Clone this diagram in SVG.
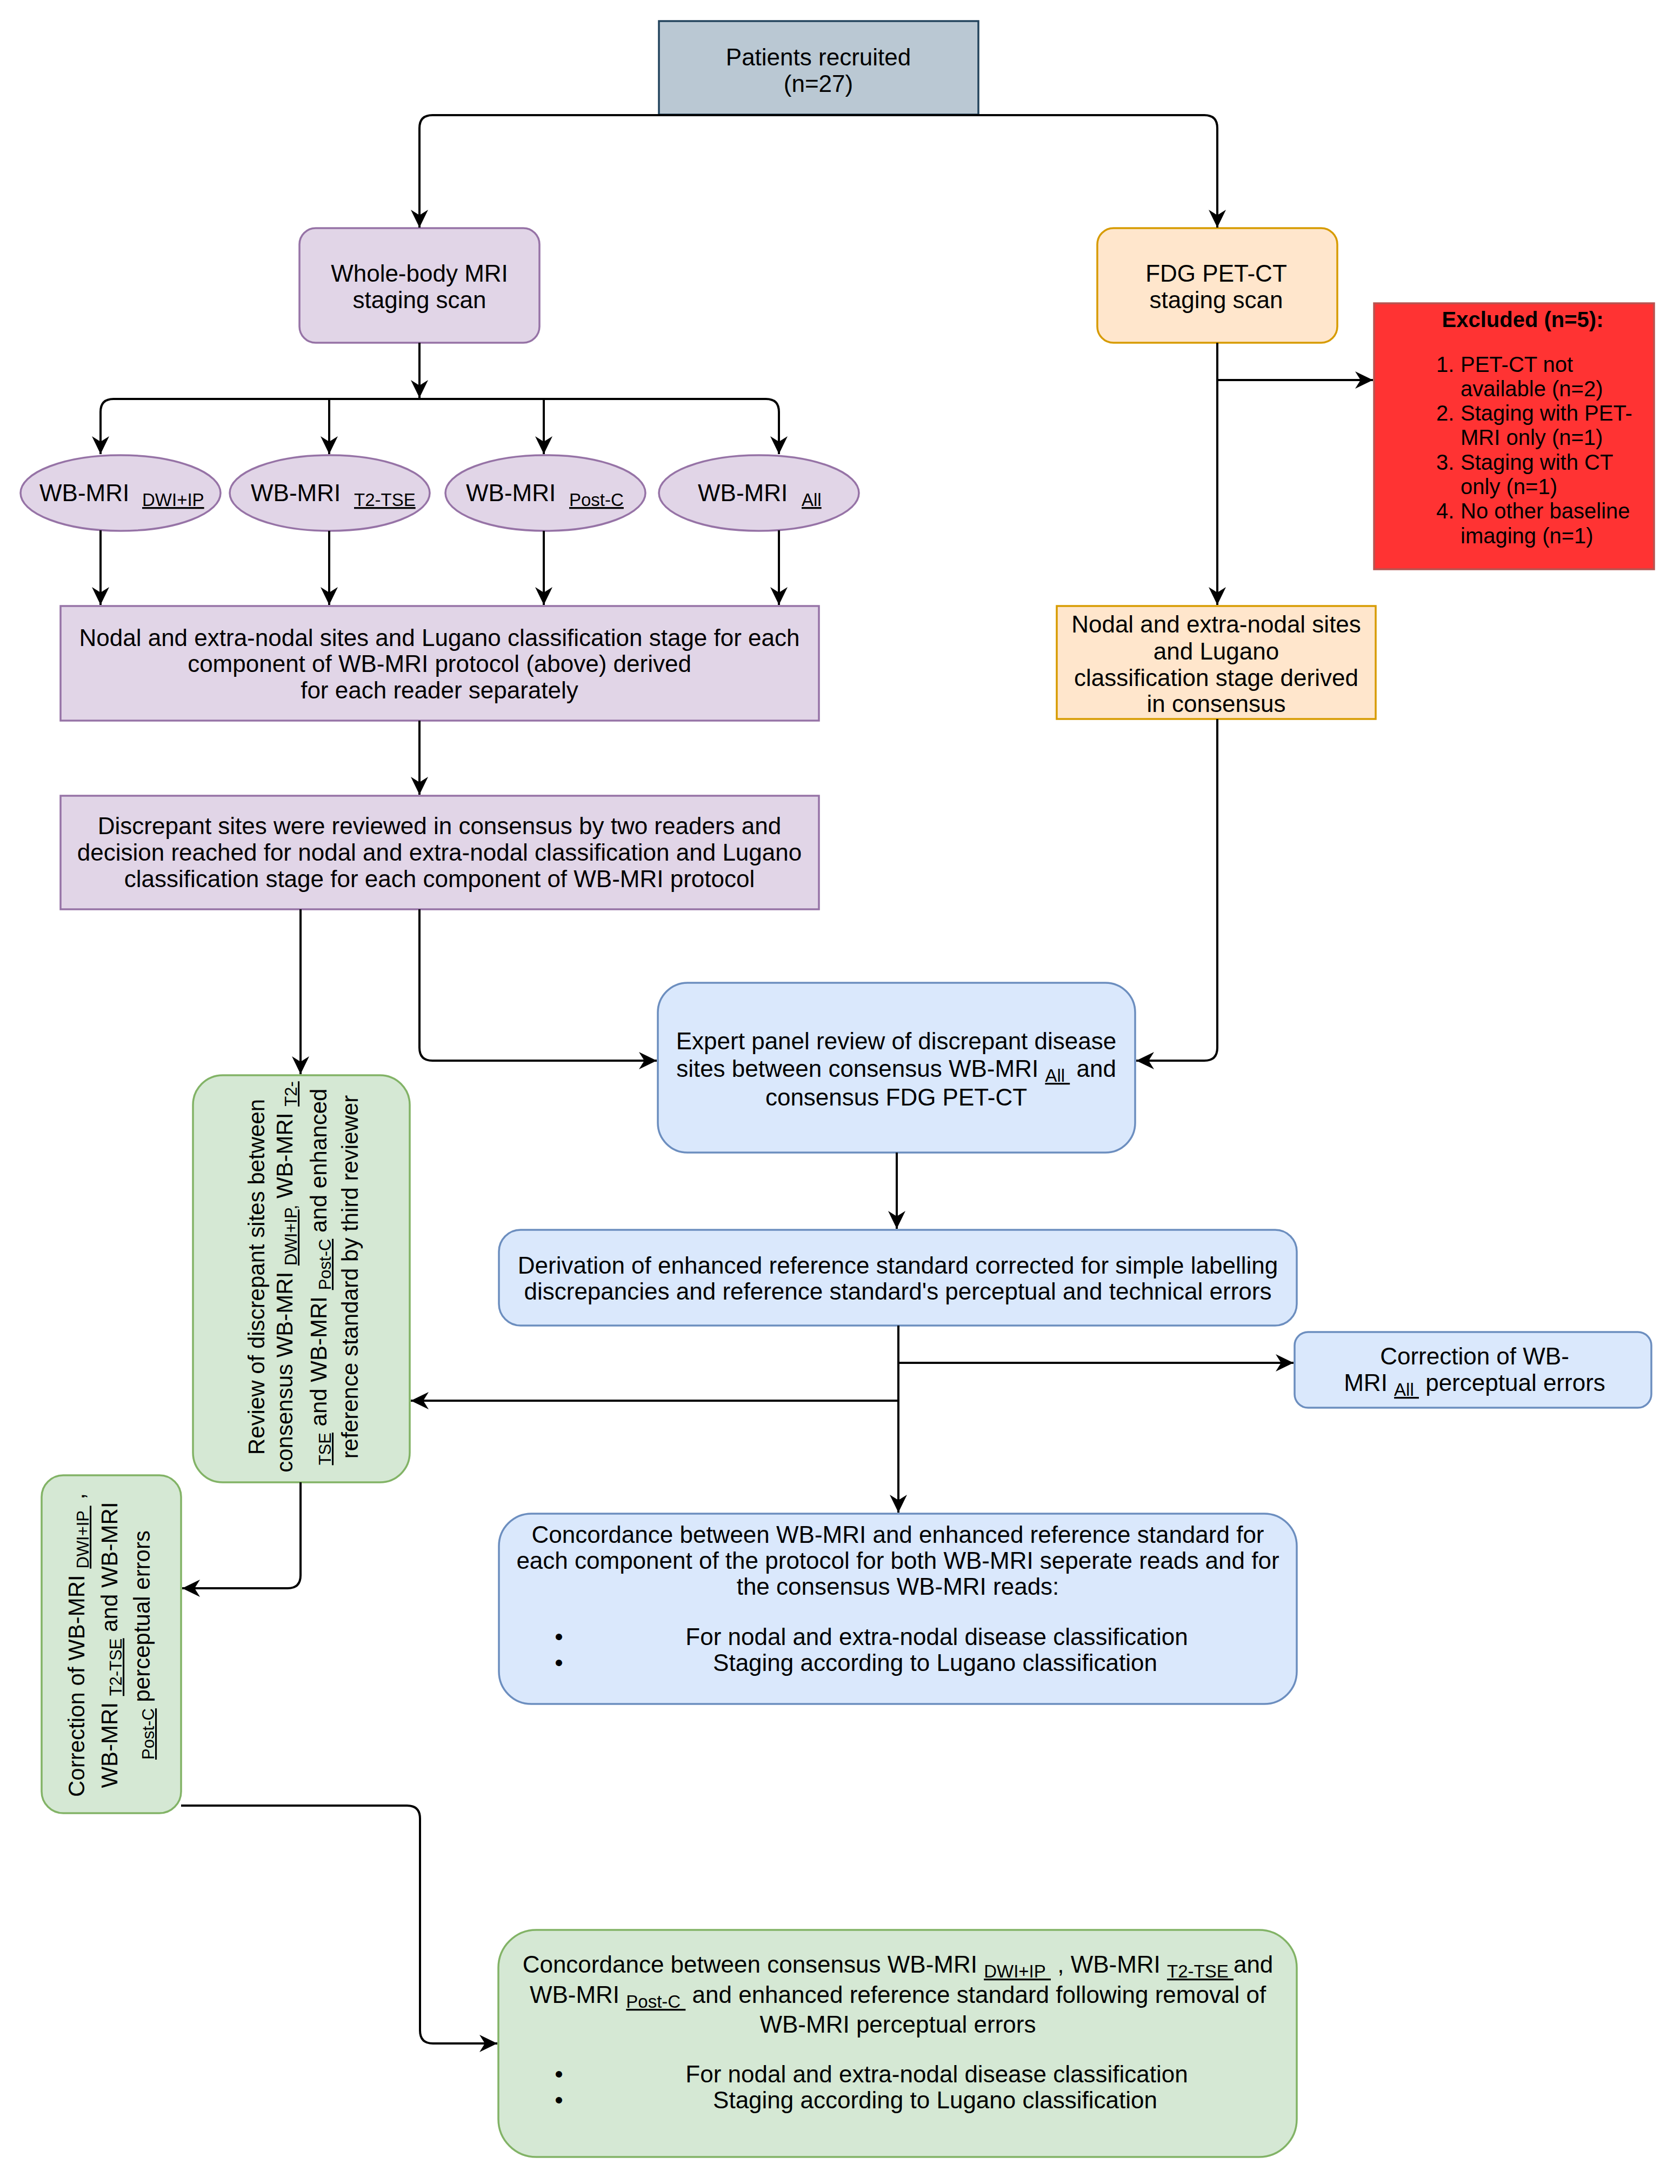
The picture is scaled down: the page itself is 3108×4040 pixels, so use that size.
<svg xmlns="http://www.w3.org/2000/svg" width="3108" height="4040" viewBox="0 0 3108 4040">
<defs>
<style>
text{font-family:"Liberation Sans",Arial,Helvetica,sans-serif;font-size:44px;fill:#000}
.m{text-anchor:middle}
.s{font-size:33px;text-decoration:underline}
.sn{font-size:33px}
.r text{font-size:42px}
.r .s,.r .sn{font-size:31px}
.ex text{font-size:40px}
.b{font-weight:bold}
.e{fill:none;stroke:#000;stroke-width:4;marker-end:url(#a)}
.gy{fill:#bac8d3;stroke:#23445d;stroke-width:3.5}
.pu{fill:#e1d5e7;stroke:#9673a6;stroke-width:3.5}
.or{fill:#ffe6cc;stroke:#d79b00;stroke-width:3.5}
.bl{fill:#dae8fc;stroke:#6c8ebf;stroke-width:3.5}
.gr{fill:#d5e8d4;stroke:#82b366;stroke-width:3.5}
.rd{fill:#ff3333;stroke:#b85450;stroke-width:3.5}
</style>
<marker id="a" viewBox="-36 -18 38 36" markerWidth="38" markerHeight="36" refX="0" refY="0" orient="auto" markerUnits="userSpaceOnUse"><path d="M0,0 L-33,-16 L-23,0 L-33,16 Z" fill="#000"/></marker>
</defs>
<rect width="3108" height="4040" fill="#fff"/>

<g id="patients">
<rect class="gy" x="1219" y="39" width="591" height="173"/>
<text class="m" x="1514" y="121">Patients recruited</text>
<text class="m" x="1514" y="170">(n=27)</text>
</g>

<g id="wbmri">
<rect class="pu" x="554" y="422" width="444" height="212" rx="30"/>
<text class="m" x="776" y="521">Whole-body MRI</text>
<text class="m" x="776" y="570">staging scan</text>
</g>

<g id="fdg">
<rect class="or" x="2030" y="422" width="444" height="212" rx="30"/>
<text class="m" x="2250" y="521">FDG PET-CT</text>
<text class="m" x="2250" y="570">staging scan</text>
</g>

<g id="excluded" class="ex">
<rect class="rd" x="2542" y="561" width="518" height="492"/>
<text class="m b" x="2817" y="605">Excluded (n=5):</text>
<text x="2657" y="688">1.</text><text x="2702" y="688">PET-CT not</text>
<text x="2702" y="733">available (n=2)</text>
<text x="2657" y="778">2.</text><text x="2702" y="778">Staging with PET-</text>
<text x="2702" y="823">MRI only (n=1)</text>
<text x="2657" y="869">3.</text><text x="2702" y="869">Staging with CT</text>
<text x="2702" y="914">only (n=1)</text>
<text x="2657" y="959">4.</text><text x="2702" y="959">No other baseline</text>
<text x="2702" y="1005">imaging (n=1)</text>
</g>

<g id="wb-dwi">
<ellipse class="pu" cx="223" cy="912" rx="185" ry="70"/>
<text x="73" y="927">WB-MRI</text><text class="s" x="263" y="936">DWI+IP</text>
</g>
<g id="wb-t2">
<ellipse class="pu" cx="610" cy="912" rx="185" ry="70"/>
<text x="464" y="927">WB-MRI</text><text class="s" x="655" y="936">T2-TSE</text>
</g>
<g id="wb-postc">
<ellipse class="pu" cx="1009" cy="912" rx="185" ry="70"/>
<text x="862" y="927">WB-MRI</text><text class="s" x="1053" y="936">Post-C</text>
</g>
<g id="wb-all">
<ellipse class="pu" cx="1404" cy="912" rx="185" ry="70"/>
<text x="1291" y="927">WB-MRI</text><text class="s" x="1483" y="936">All</text>
</g>

<g id="nodal-wb">
<rect class="pu" x="112" y="1121" width="1403" height="212"/>
<text class="m" x="813" y="1195">Nodal and extra-nodal sites and Lugano classification stage for each</text>
<text class="m" x="813" y="1243">component of WB-MRI protocol (above) derived</text>
<text class="m" x="813" y="1292">for each reader separately</text>
</g>

<g id="nodal-pet">
<rect class="or" x="1955" y="1121" width="590" height="209"/>
<text class="m" x="2250" y="1170">Nodal and extra-nodal sites</text>
<text class="m" x="2250" y="1220">and Lugano</text>
<text class="m" x="2250" y="1269">classification stage derived</text>
<text class="m" x="2250" y="1317">in consensus</text>
</g>

<g id="discrepant">
<rect class="pu" x="112" y="1472" width="1403" height="210"/>
<text class="m" x="813" y="1543">Discrepant sites were reviewed in consensus by two readers and</text>
<text class="m" x="813" y="1592">decision reached for nodal and extra-nodal classification and Lugano</text>
<text class="m" x="813" y="1641">classification stage for each component of WB-MRI protocol</text>
</g>

<g id="expert">
<rect class="bl" x="1217" y="1818" width="883" height="314" rx="55"/>
<text class="m" x="1658" y="1941">Expert panel review of discrepant disease</text>
<text class="m" x="1658" y="1992">sites between consensus WB-MRI <tspan class="s" dy="9">All&#160;</tspan><tspan dy="-9"> and</tspan></text>
<text class="m" x="1658" y="2045">consensus FDG PET-CT</text>
</g>

<g id="review" class="r">
<rect class="gr" x="357" y="1989" width="401" height="753" rx="55"/>
<g transform="translate(557,2362) rotate(-90)">
<text class="m" x="0" y="-68">Review of discrepant sites between</text>
<text class="m" x="0" y="-16">consensus WB-MRI <tspan class="s" dy="8">DWI+IP</tspan><tspan class="sn">,</tspan><tspan dy="-8"> WB-MRI </tspan><tspan class="s" dy="8">T2-</tspan></text>
<text class="m" x="0" y="47"><tspan class="s" dy="8">TSE</tspan><tspan dy="-8"> and WB-MRI </tspan><tspan class="s" dy="8">Post-C</tspan><tspan dy="-8"> and enhanced</tspan></text>
<text class="m" x="0" y="105">reference standard by third reviewer</text>
</g>
</g>

<g id="derivation">
<rect class="bl" x="923" y="2275" width="1476" height="177" rx="40"/>
<text class="m" x="1661" y="2356">Derivation of enhanced reference standard corrected for simple labelling</text>
<text class="m" x="1661" y="2404">discrepancies and reference standard's perceptual and technical errors</text>
</g>

<g id="correction-all">
<rect class="bl" x="2395" y="2464" width="660" height="140" rx="25"/>
<text class="m" x="2728" y="2524">Correction of WB-</text>
<text class="m" x="2728" y="2573">MRI <tspan class="s" dy="9">All&#160;</tspan><tspan dy="-9"> perceptual errors</tspan></text>
</g>

<g id="correction-comp" class="r">
<rect class="gr" x="77" y="2729" width="258" height="625" rx="40"/>
<g transform="translate(206,3043) rotate(-90)">
<text class="m" x="0" y="-50">Correction of WB-MRI <tspan class="s" dy="8">DWI+IP&#160;</tspan><tspan dy="-8"> ,</tspan></text>
<text class="m" x="0" y="11">WB-MRI <tspan class="s" dy="8">T2-TSE</tspan><tspan dy="-8"> and WB-MRI</tspan></text>
<text class="m" x="0" y="71"><tspan class="s" dy="8">Post-C</tspan><tspan dy="-8"> perceptual errors</tspan></text>
</g>
</g>

<g id="concordance-1">
<rect class="bl" x="923" y="2800" width="1476" height="352" rx="60"/>
<text class="m" x="1661" y="2854">Concordance between WB-MRI and enhanced reference standard for</text>
<text class="m" x="1661" y="2902">each component of the protocol for both WB-MRI seperate reads and for</text>
<text class="m" x="1661" y="2950">the consensus WB-MRI reads:</text>
<text class="m" x="1034" y="3043">•</text>
<text class="m" x="1733" y="3043">For nodal and extra-nodal disease classification</text>
<text class="m" x="1034" y="3091">•</text>
<text class="m" x="1730" y="3091">Staging according to Lugano classification</text>
</g>

<g id="concordance-2">
<rect class="gr" x="922" y="3570" width="1477" height="420" rx="70"/>
<text class="m" x="1661" y="3649">Concordance between consensus WB-MRI <tspan class="s" dy="9">DWI+IP&#160;</tspan><tspan dy="-9"> , WB-MRI </tspan><tspan class="s" dy="9">T2-TSE&#160;</tspan><tspan dy="-9">and</tspan></text>
<text class="m" x="1661" y="3705">WB-MRI <tspan class="s" dy="9">Post-C&#160;</tspan><tspan dy="-9"> and enhanced reference standard following removal of</tspan></text>
<text class="m" x="1661" y="3760">WB-MRI perceptual errors</text>
<text class="m" x="1034" y="3852">•</text>
<text class="m" x="1733" y="3852">For nodal and extra-nodal disease classification</text>
<text class="m" x="1034" y="3900">•</text>
<text class="m" x="1730" y="3900">Staging according to Lugano classification</text>
</g>

<g id="connectors">
<path class="e" d="M1514,213 H800 Q776,213 776,237 V421"/>
<path class="e" d="M1514,213 H2228 Q2252,213 2252,237 V421"/>
<path class="e" d="M776,634 V736"/>
<path class="e" d="M776,738 H210 Q186,738 186,762 V840"/>
<path class="e" d="M776,738 H1417 Q1441,738 1441,762 V840"/>
<path class="e" d="M609,738 V840"/>
<path class="e" d="M1006,738 V840"/>
<path class="e" d="M186,981 V1119"/>
<path class="e" d="M609,982 V1119"/>
<path class="e" d="M1006,982 V1119"/>
<path class="e" d="M1441,981 V1119"/>
<path class="e" d="M776,1333 V1470"/>
<path class="e" d="M2252,634 V1119"/>
<path class="e" d="M2252,703 H2540"/>
<path class="e" d="M2252,1330 V1938 Q2252,1962 2228,1962 H2102"/>
<path class="e" d="M776,1682 V1938 Q776,1962 800,1962 H1215"/>
<path class="e" d="M556,1682 V1987"/>
<path class="e" d="M1659,2132 V2273"/>
<path class="e" d="M1662,2452 V2798"/>
<path class="e" d="M1662,2521 H2393"/>
<path class="e" d="M1662,2591 H760"/>
<path class="e" d="M556,2742 V2914 Q556,2938 532,2938 H337"/>
<path class="e" d="M335,3340 H753 Q777,3340 777,3364 V3756 Q777,3780 801,3780 H920"/>
</g>
</svg>
